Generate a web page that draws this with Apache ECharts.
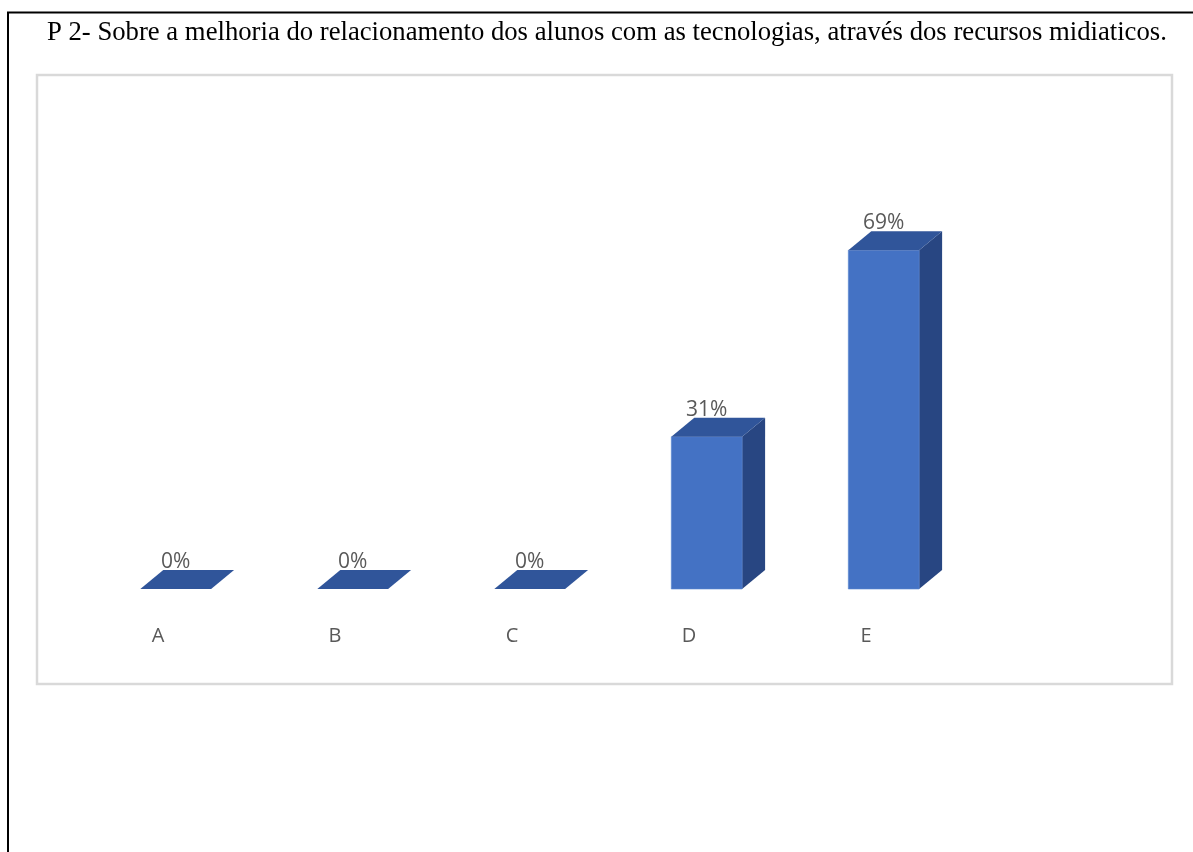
<!DOCTYPE html>
<html>
<head>
<meta charset="utf-8">
<style>
  html, body { margin: 0; padding: 0; background: #fff; }
  #chart { width: 1193px; height: 852px; }
</style>
<script src="https://cdn.jsdelivr.net/npm/echarts@6/dist/echarts.min.js"></script>
</head>
<body>
<div id="chart"></div>
<script>
// Answer options and the share of responses for each one (%)
const categories = ['A', 'B', 'C', 'D', 'E'];
const shares = [0, 0, 0, 31, 69];
const titleText = 'P 2- Sobre a melhoria do relacionamento dos alunos com as tecnologias, através dos recursos midiaticos.';

// Colours of the three visible faces of each block
const FRONT = '#4472C4';
const TOP = '#30559A';
const SIDE = '#284682';
// Depth of the pseudo-3D extrusion, in pixels
const DEPTH_X = 23;
const DEPTH_Y = 19;

const chart = echarts.init(document.getElementById('chart'), null, { renderer: 'canvas' });

function renderBlock(params, api) {
  const base = api.coord([api.value(0), 0]);
  const top = api.coord([api.value(0), api.value(1)]);
  const band = api.size([1, 0])[0];
  const w = band * 0.4;
  const cx = base[0] + band * 0.1;
  const x0 = cx - w / 2, x1 = cx + w / 2;
  const yb = base[1], yt = top[1];
  const children = [];
  if (yb - yt > 0.5) {
    children.push({
      type: 'polygon',
      shape: { points: [[x1, yt], [x1 + DEPTH_X, yt - DEPTH_Y], [x1 + DEPTH_X, yb - DEPTH_Y], [x1, yb]] },
      style: { fill: SIDE }
    });
    children.push({
      type: 'rect',
      shape: { x: x0, y: yt, width: w, height: yb - yt },
      style: { fill: FRONT, stroke: '#5b86d0', lineWidth: 0.6 }
    });
  }
  children.push({
    type: 'polygon',
    shape: { points: [[x0, yt], [x1, yt], [x1 + DEPTH_X, yt - DEPTH_Y], [x0 + DEPTH_X, yt - DEPTH_Y]] },
    style: { fill: TOP }
  });
  children.push({
    type: 'text',
    style: {
      x: cx, y: yt - 27,
      text: api.value(1) + '%',
      fill: '#595959',
      font: '21px "Open Sans", sans-serif',
      align: 'center',
      verticalAlign: 'middle'
    }
  });
  return { type: 'group', children: children };
}

chart.setOption({
  backgroundColor: '#ffffff',
  animation: false,
  title: {
    text: titleText,
    left: 42,
    top: 14,
    textStyle: {
      fontFamily: '"Liberation Serif", "Times New Roman", serif',
      fontSize: 26.7,
      fontWeight: 'normal',
      color: '#000000'
    }
  },
  graphic: [
    // outer frame lines
    { type: 'line', shape: { x1: 7, y1: 12.5, x2: 1193, y2: 12.5 }, style: { stroke: '#000', lineWidth: 2 } },
    { type: 'line', shape: { x1: 8, y1: 12, x2: 8, y2: 852 }, style: { stroke: '#000', lineWidth: 2 } },
    // chart area border
    { type: 'rect', shape: { x: 37, y: 75, width: 1135, height: 609 }, style: { fill: 'none', stroke: '#d9d9d9', lineWidth: 2.5 } }
  ],
  grid: { left: 69.5, top: 98, width: 885, height: 491 },
  xAxis: {
    type: 'category',
    data: categories,
    axisLine: { show: false },
    axisTick: { show: false },
    axisLabel: {
      margin: 37,
      color: '#595959',
      fontSize: 20,
      fontFamily: '"Open Sans", sans-serif'
    }
  },
  yAxis: {
    type: 'value',
    min: 0,
    max: 100,
    show: false,
    splitLine: { show: false }
  },
  series: [{
    type: 'custom',
    renderItem: renderBlock,
    encode: { x: 0, y: 1 },
    data: categories.map((c, i) => [i, shares[i]])
  }]
});
</script>
</body>
</html>
